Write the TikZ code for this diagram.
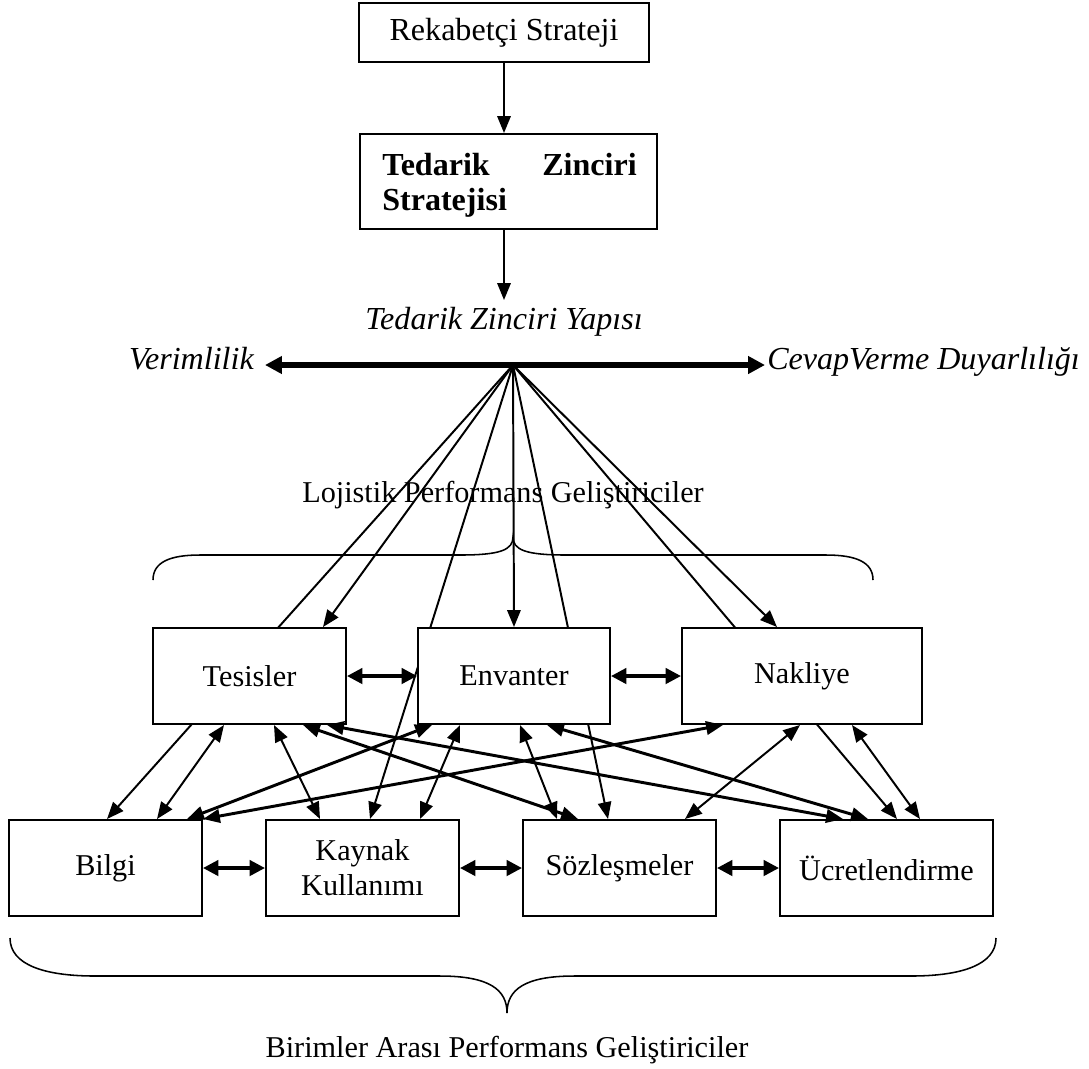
\documentclass[tikz,border=0pt]{standalone}
\usepackage{fontspec}
\setmainfont{Liberation Serif}
\usetikzlibrary{arrows.meta,calc}
\pgfdeclarelayer{bg}
\pgfsetlayers{bg,main}
\newcommand\myfs{\fontsize{21.5pt}{25pt}\selectfont}
\newcommand\myfsb{\fontsize{22.8pt}{26pt}\selectfont}
\begin{document}
\begin{tikzpicture}[x=0.025cm,y=-0.025cm,
  every node/.style={font=\myfs, inner sep=0pt},
  box/.style={draw, line width=1.4pt, fill=white, align=center, minimum height=2.4cm},
  ar/.style={line width=1.4pt, -{Triangle[length=12pt,width=9.5pt]}},
  dar/.style={line width=1.4pt, {Triangle[length=12pt,width=9.5pt]}-{Triangle[length=12pt,width=9.5pt]}},
  tdar/.style={line width=2.1pt, {Triangle[length=12pt,width=9.5pt]}-{Triangle[length=12pt,width=9.5pt]}},
  hdar/.style={line width=2.4pt, {Triangle[length=11pt,width=11pt]}-{Triangle[length=11pt,width=11pt]}},
  brace/.style={line width=1.1pt}]
\useasboundingbox (0,0) rectangle (1089,1068);

% top boxes
\node[box, minimum width=7.25cm, minimum height=1.475cm, font=\myfsb] (rek) at (504,32.5) {Rekabetçi Strateji};
\node[box, minimum width=7.425cm, minimum height=2.375cm] (ted) at (508.5,181.5) {};
\node[anchor=base west, font=\myfsb\bfseries] (t1) at (382,175) {Tedarik};
\node[anchor=base east, font=\myfsb\bfseries] (t2) at (637,175) {Zinciri};
\node[anchor=base west, font=\myfsb\bfseries] (t3) at (382,210) {Stratejisi};
\coordinate (tedout) at (504,300);
\draw[ar] (rek.south) -- (rek.south |- ted.north);
\draw[ar] (rek.south |- ted.south) -- (tedout);

% structure bar
\node[font=\myfsb\itshape] (tzy) at (504,322) {Tedarik Zinciri Yapısı};
\coordinate (hub) at (513,365);
\coordinate (barL) at (265,365);
\coordinate (barR) at (765,365);
\node[anchor=base east, font=\myfsb\itshape] (ver) at (254,369) {Verimlilik};
\node[anchor=base west, font=\myfsb\itshape] (cev) at (767,369) {CevapVerme Duyarlılığı};
\draw[line width=3.6pt, {Triangle[length=12pt,width=12pt]}-{Triangle[length=12pt,width=12pt]}] (barL) -- (barR);

% labels and braces
\node (lpg) at (503,495) {Lojistik Performans Geliştiriciler};
\draw[brace] (153,580) .. controls (153,562) and (170,555) .. (200,555) -- (460,555)
  .. controls (500,555) and (513,550) .. (513,537)
  .. controls (513,550) and (526,555) .. (566,555) -- (826,555)
  .. controls (856,555) and (873,562) .. (873,580);

% middle row
\node[box, minimum width=4.825cm] (tes) at (249.5,676) {Tesisler};
\node[box, minimum width=4.8cm] (env) at (514,676) {Envanter};
\node[box, minimum width=6.0cm] (nak) at (802,676) {Nakliye};

% bottom row
\node[box, minimum width=4.825cm] (bil) at (105.5,868) {Bilgi};
\node[box, minimum width=4.825cm] (kay) at (362.5,868) {Kaynak\\Kullanımı};
\node[box, minimum width=4.825cm] (soz) at (619.5,868) {Sözleşmeler};
\node[box, minimum width=5.325cm] (ucr) at (886.5,868) {Ücretlendirme};

\draw[brace] (10,938) .. controls (10,965) and (45,976) .. (95,976) -- (440,976)
  .. controls (490,976) and (507,990) .. (507,1013)
  .. controls (507,990) and (524,976) .. (574,976) -- (911,976)
  .. controls (961,976) and (996,965) .. (996,938);
\node (bapg) at (507,1050) {Birimler Arası Performans Geliştiriciler};

% hub lines passing behind the middle boxes
\begin{pgfonlayer}{bg}
\draw[ar] (hub) -- (107,0 |- bil.north);
\draw[ar] (hub) -- (370,0 |- kay.north);
\draw[ar] (hub) -- (608,0 |- soz.north);
\draw[ar] (hub) -- (897,0 |- ucr.north);
\end{pgfonlayer}
% hub lines to the middle boxes
\draw[ar] (hub) -- (323,0 |- tes.north);
\draw[ar] (hub) -- (env.north);
\draw[ar] (hub) -- (777,0 |- nak.north);

% horizontal links
\draw[hdar] (tes.east) -- (env.west);
\draw[hdar] (env.east) -- (nak.west);
\draw[hdar] (bil.east) -- (kay.west);
\draw[hdar] (kay.east) -- (soz.west);
\draw[hdar] (soz.east) -- (ucr.west);

% links between the rows
\draw[dar]  (224,0 |- tes.south) -- (157,0 |- bil.north);
\draw[dar]  (274,0 |- tes.south) -- (320,0 |- kay.north);
\draw[tdar] (303,0 |- tes.south) -- (578,0 |- soz.north);
\draw[tdar] (327,0 |- tes.south) -- (843,0 |- ucr.north);
\draw[tdar] (432,0 |- env.south) -- (187,0 |- bil.north);
\draw[dar]  (460,0 |- env.south) -- (420,0 |- kay.north);
\draw[dar]  (520,0 |- env.south) -- (557,0 |- soz.north);
\draw[tdar] (547,0 |- env.south) -- (868,0 |- ucr.north);
\draw[tdar] (723,0 |- nak.south) -- (203,0 |- bil.north);
\draw[dar]  (800,0 |- nak.south) -- (685,0 |- soz.north);
\draw[dar]  (852,0 |- nak.south) -- (920,0 |- ucr.north);
\end{tikzpicture}
\end{document}
